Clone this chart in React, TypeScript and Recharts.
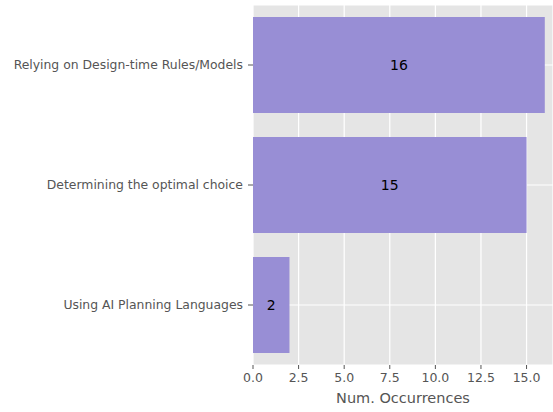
import { BarChart, Bar, XAxis, YAxis, CartesianGrid, LabelList } from 'recharts'

const categories = ['Relying on Design-time Rules/Models', 'Determining the optimal choice', 'Using AI Planning Languages']
const occurrences = [16, 15, 2]
const xTicks = [0, 2.5, 5, 7.5, 10, 12.5, 15]

const data = categories.map((name, i) => ({ name, value: occurrences[i] }))

const FONT = 'DejaVu Sans, sans-serif'

export default function App() {
  return (
    <div style={{ position: 'absolute', left: 0, top: 0, fontFamily: FONT }}>
      <BarChart
        width={553}
        height={412}
        data={data}
        layout="vertical"
        margin={{ top: 5, right: 0, bottom: 0, left: 0 }}
        barCategoryGap="10%"
      >
        <CartesianGrid fill="#E5E5E5" stroke="#ffffff" strokeWidth={1.2} />
        <XAxis
          type="number"
          domain={[0, 16.45]}
          ticks={xTicks}
          tickFormatter={v => v.toFixed(1)}
          allowDataOverflow
          axisLine={false}
          tickLine={{ stroke: '#555555' }}
          tickSize={4}
          tickMargin={4}
          tick={{ fontSize: 12.5, fill: '#555555', fontFamily: FONT }}
          height={47}
          label={{ value: 'Num. Occurrences', position: 'insideBottom', offset: 9, fontSize: 14.5, fill: '#555555', fontFamily: FONT }}
        />
        <YAxis
          type="category"
          dataKey="name"
          width={253}
          axisLine={false}
          tickLine={{ stroke: '#555555' }}
          tickSize={5}
          tickMargin={5}
          tick={{ fontSize: 12.4, fill: '#555555', fontFamily: FONT }}
        />
        <Bar dataKey="value" fill="#988ED5" isAnimationActive={false}>
          <LabelList dataKey="value" position="center" fill="#000000" fontSize={14} fontFamily={FONT} />
        </Bar>
      </BarChart>
    </div>
  )
}
